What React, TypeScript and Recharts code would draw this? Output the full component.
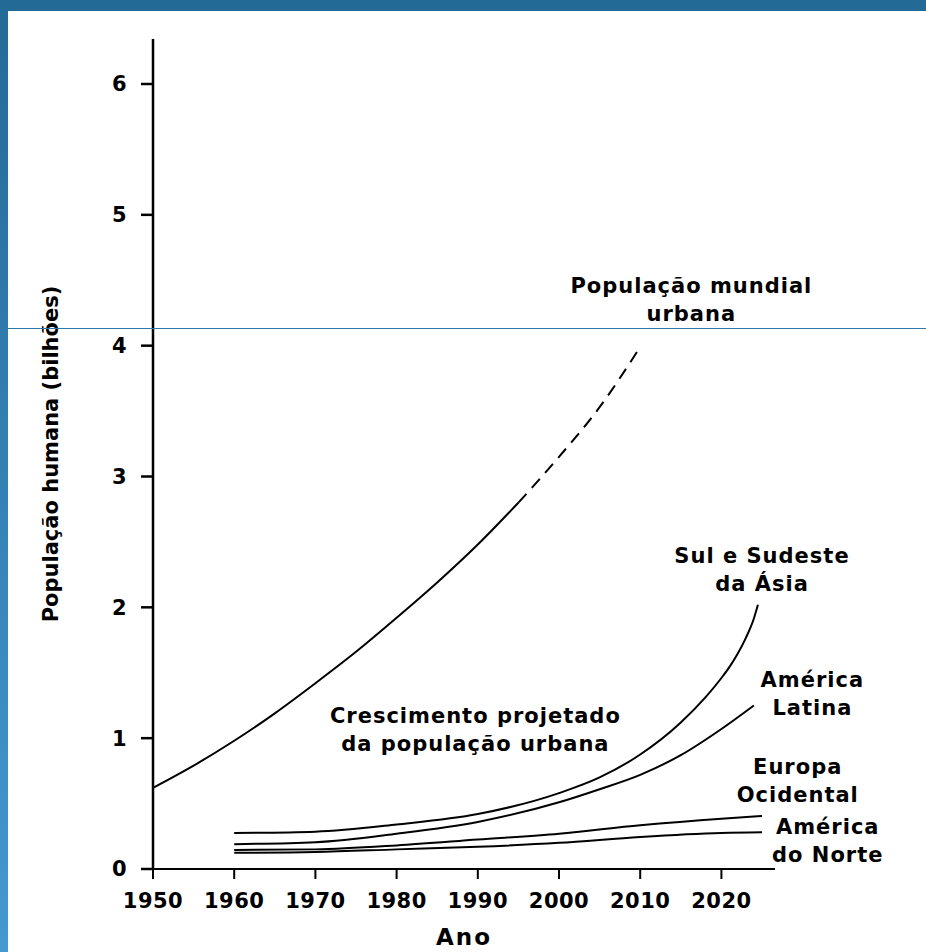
import { LineChart, Line, XAxis, YAxis, ReferenceDot, Label } from "recharts";

// anos e valores (bilhões)
const worldYears = [1950, 1955, 1960, 1965, 1970, 1975, 1980, 1985, 1990, 1995];
const worldUrban = [0.62, 0.79, 0.98, 1.19, 1.42, 1.66, 1.92, 2.19, 2.48, 2.8];
const projYears = [1995, 2000, 2005, 2010];
const worldProjected = [2.8, 3.15, 3.53, 3.99];

const asiaYears = [1960, 1970, 1980, 1990, 2000, 2005, 2010, 2015, 2018, 2020, 2021, 2022, 2023, 2024, 2024.5];
const southAsia = [0.275, 0.285, 0.34, 0.42, 0.58, 0.7, 0.875, 1.12, 1.31, 1.46, 1.545, 1.645, 1.765, 1.915, 2.02];
const latinYears = [1960, 1970, 1980, 1990, 2000, 2005, 2010, 2015, 2020, 2024];
const latinAmerica = [0.19, 0.205, 0.27, 0.36, 0.51, 0.61, 0.72, 0.87, 1.07, 1.25];
const flatYears = [1960, 1970, 1980, 1990, 2000, 2010, 2020, 2025];
const westernEurope = [0.145, 0.15, 0.18, 0.225, 0.27, 0.335, 0.385, 0.405];
const northAmerica = [0.124, 0.13, 0.15, 0.17, 0.2, 0.245, 0.275, 0.28];

const xTicks = [1950, 1960, 1970, 1980, 1990, 2000, 2010, 2020];
const yTicks = [0, 1, 2, 3, 4, 5, 6];

// rótulos no gráfico: texto, ano e valor da primeira linha
const noteTexts = [
  ["População mundial", "urbana"],
  ["Crescimento projetado", "da população urbana"],
  ["Sul e Sudeste", "da Ásia"],
  ["América", "Latina"],
  ["Europa", "Ocidental"],
  ["América", "do Norte"],
];
const noteYears = [2016.3, 1989.7, 2025.0, 2031.2, 2029.4, 2033.1];
const noteValues = [4.4, 1.116, 2.339, 1.391, 0.726, 0.268];

const toRows = (years: number[], values: number[]) =>
  years.map((year, i) => ({ year, v: values[i] }));

const textStyle = {
  fontFamily: "DejaVu Sans",
  fontWeight: "bold" as const,
  fontSize: 21,
  letterSpacing: 1,
  fill: "#000",
};

const Note = ({ cx, cy, lines }: { cx: number; cy: number; lines: string[] }) => (
  <text x={cx} y={cy} textAnchor="middle" {...textStyle}>
    {lines.map((l, i) => (
      <tspan key={i} x={cx} dy={i === 0 ? 0 : 28}>
        {l}
      </tspan>
    ))}
  </text>
);

const YTitle = ({ viewBox }: any) => {
  const x = viewBox.x - 15;
  const y = viewBox.y + viewBox.height / 2;
  return (
    <text
      x={x}
      y={y}
      transform={`rotate(-90, ${x}, ${y})`}
      textAnchor="middle"
      {...textStyle}
      letterSpacing={0}
    >
      População humana (bilhões)
    </text>
  );
};

const XTitle = ({ viewBox }: any) => (
  <text
    x={viewBox.x + viewBox.width / 2}
    y={viewBox.y + 76}
    textAnchor="middle"
    {...textStyle}
    fontSize={23}
    letterSpacing={2}
  >
    Ano
  </text>
);

export default function App() {
  const lineProps = {
    type: "monotone" as const,
    dataKey: "v",
    stroke: "#000",
    strokeWidth: 2,
    dot: false,
    activeDot: false,
    isAnimationActive: false,
  };
  const tick = { ...textStyle, letterSpacing: 0.5 };

  return (
    <div
      style={{
        position: "absolute",
        left: 0,
        top: 0,
        width: 926,
        height: 952,
        background: "#fff",
        overflow: "hidden",
        fontFamily: "DejaVu Sans",
      }}
    >
      <div style={{ position: "absolute", left: 0, top: 0, width: 926, height: 11, background: "#236a96" }} />
      <div
        style={{
          position: "absolute",
          left: 0,
          top: 0,
          width: 8,
          height: 952,
          background: "linear-gradient(#236a96, #4499d1)",
        }}
      />
      <div style={{ position: "absolute", left: 0, top: 0 }}>
        <LineChart width={926} height={952} margin={{ top: 39, right: 151, bottom: 23, left: 73 }}>
          <XAxis
            type="number"
            dataKey="year"
            domain={[1950, 2026.6]}
            ticks={xTicks}
            tickSize={10}
            tickMargin={14}
            height={60}
            stroke="#000"
            strokeWidth={2}
            tick={tick}
            allowDuplicatedCategory={false}
          >
            <Label content={<XTitle />} />
          </XAxis>
          <YAxis
            type="number"
            domain={[0, 6.344]}
            ticks={yTicks}
            width={80}
            tickSize={12}
            tickMargin={14}
            stroke="#000"
            strokeWidth={2.5}
            tick={tick}
          >
            <Label content={<YTitle />} />
          </YAxis>
          <Line {...lineProps} data={toRows(worldYears, worldUrban)} />
          <Line {...lineProps} data={toRows(projYears, worldProjected)} strokeDasharray="12 8" />
          <Line {...lineProps} data={toRows(asiaYears, southAsia)} />
          <Line {...lineProps} data={toRows(latinYears, latinAmerica)} />
          <Line {...lineProps} data={toRows(flatYears, westernEurope)} />
          <Line {...lineProps} data={toRows(flatYears, northAmerica)} />
          {noteTexts.map((lines, i) => (
            <ReferenceDot
              key={i}
              x={noteYears[i]}
              y={noteValues[i]}
              r={0}
              ifOverflow="visible"
              shape={(p: any) => <Note cx={p.cx} cy={p.cy} lines={lines} />}
            />
          ))}
        </LineChart>
      </div>
      <div style={{ position: "absolute", left: 8, top: 328, width: 918, height: 1, background: "#2e77a9" }} />
    </div>
  );
}
